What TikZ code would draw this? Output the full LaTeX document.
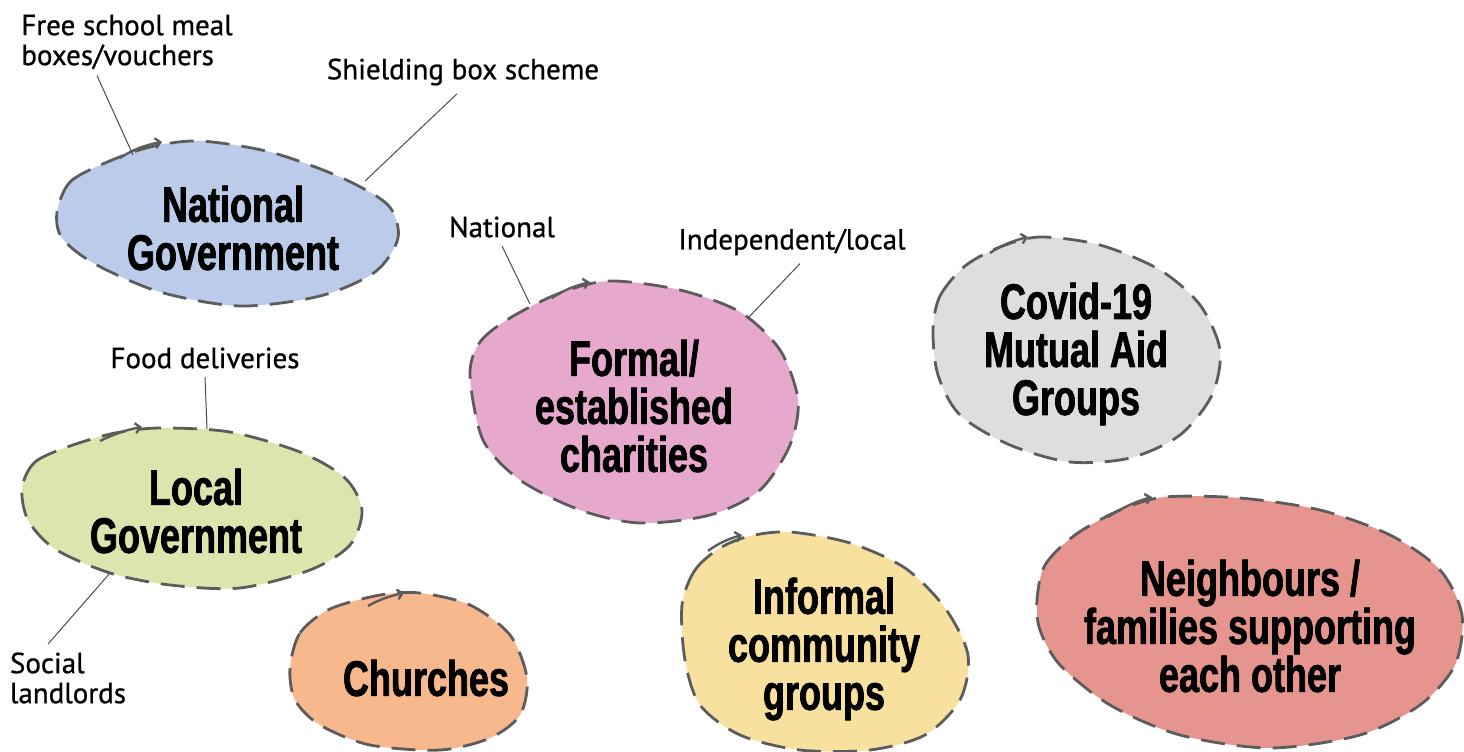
\documentclass[tikz,border=0pt]{standalone}
\usepackage{fontspec}
\setmainfont{PT Sans}[FakeBold=0.8]
\newfontfamily\blobfont[FakeStretch=0.72, FakeBold=1.4]{Liberation Sans}
\usetikzlibrary{arrows.meta}

\definecolor{ngblue}{HTML}{BBCCEA}
\definecolor{lggreen}{HTML}{DDE5AE}
\definecolor{chorange}{HTML}{F7B88E}
\definecolor{fcpink}{HTML}{E6A8CC}
\definecolor{cvgray}{HTML}{DCDFDB}
\definecolor{icyellow}{HTML}{F8E09F}
\definecolor{nbred}{HTML}{E6958E}
\definecolor{dashgray}{HTML}{5C5C5C}

\tikzset{
  blob/.style={draw=dashgray, line width=1.4pt, dash pattern=on 12pt off 6pt, line join=round},
  hookline/.style={draw=dashgray, line width=1.2pt, -{Straight Barb[length=2.5pt,width=5pt]}},
  blobtext/.style={font=\blobfont\bfseries\fontsize{25}{24}\selectfont, align=center, inner sep=0pt},
  tag/.style={font=\fontsize{14.5}{15}\selectfont, inner sep=0pt},
  pointer/.style={draw=black!70, line width=0.5pt}
}

\begin{document}
\begin{tikzpicture}[x=0.5pt, y=-0.5pt]
    \useasboundingbox (0,0) rectangle (1464,751);

    % national government
    \filldraw[blob, fill=ngblue] plot[smooth cycle] coordinates {(57,212) (70,182) (105,163) (150,147) (200,141) (270,152) (340,177) (388,205) (398,238) (375,272) (320,296) (240,306) (160,292) (95,264) (62,238)};
    \draw[hookline] (120,158) .. controls (132,150) and (145,145) .. (162,142);
    \node[blobtext] (natgov) at (233,228) {National\\Government};

    % local government
    \filldraw[blob, fill=lggreen] plot[smooth cycle] coordinates {(22,488) (35,462) (70,446) (115,433) (160,428) (230,432) (300,452) (345,478) (362,510) (350,545) (310,570) (240,588) (170,585) (110,573) (55,549) (28,520)};
    \draw[hookline] (100,441) .. controls (112,435) and (125,430) .. (142,427);
    \node[blobtext] (locgov) at (196,511) {Local\\Government};

    % churches
    \filldraw[blob, fill=chorange] plot[smooth cycle] coordinates {(290,668) (300,633) (330,609) (380,595) (420,593) (470,605) (510,635) (527,678) (520,715) (490,738) (440,750) (370,745) (320,725) (295,700)};
    \draw[hookline] (368,606) .. controls (378,600) and (390,596) .. (404,593);
    \node[blobtext] (church) at (426,678) {Churches};

    % formal charities
    \filldraw[blob, fill=fcpink] plot[smooth cycle] coordinates {(470,375) (480,342) (510,318) (560,293) (610,281) (680,290) (740,312) (780,350) (798,400) (790,445) (760,490) (710,515) (640,523) (580,510) (520,480) (483,440)};
    \draw[hookline] (552,298) .. controls (562,291) and (574,286) .. (590,282);
    \node[blobtext] (charity) at (634,406) {Formal/\\established\\charities};

    % covid-19 groups
    \filldraw[blob, fill=cvgray] plot[smooth cycle] coordinates {(933,330) (940,296) (965,266) (1000,247) (1040,237) (1100,245) (1160,270) (1200,305) (1220,350) (1212,395) (1180,435) (1130,458) (1070,462) (1010,445) (960,415) (938,375)};
    \draw[hookline] (990,253) .. controls (1000,246) and (1012,241) .. (1028,237);
    \node[blobtext] (mutual) at (1076,354) {Covid-19\\Mutual Aid\\Groups};

    % informal groups
    \filldraw[blob, fill=icyellow] plot[smooth cycle] coordinates {(682,605) (695,570) (720,548) (750,536) (790,532) (850,543) (905,568) (945,608) (968,655) (960,700) (925,735) (870,750) (800,750) (740,735) (700,705) (685,660)};
    \draw[hookline] (708,551) .. controls (717,544) and (728,539) .. (742,535);
    \node[blobtext] (informal) at (824,649) {Informal\\community\\groups};

    % neighbours / families
    \filldraw[blob, fill=nbred] plot[smooth cycle] coordinates {(1037,600) (1045,565) (1075,535) (1120,510) (1165,497) (1240,498) (1320,510) (1390,535) (1440,570) (1462,615) (1455,665) (1420,705) (1360,735) (1270,748) (1180,735) (1110,705) (1060,665) (1040,630)};
    \draw[hookline] (1108,517) .. controls (1120,509) and (1134,502) .. (1152,497);
    \node[blobtext] (nbours) at (1250,626) {Neighbours /\\families supporting\\each other};

    % labels
    \node[tag, align=left] (fsm) at (127,42) {Free school meal\\boxes/vouchers};
    \node[tag] (shield) at (463,72) {Shielding box scheme};
    \node[tag] (natl) at (502,227) {National};
    \node[tag] (indep) at (792,242) {Independent/local};
    \node[tag] (food) at (205,358) {Food deliveries};
    \node[tag, align=left] (social) at (68,678) {Social\\landlords};

    % pointer ends on the blobs
    \coordinate (ng-fsm) at (133,155);
    \coordinate (ng-shield) at (365,181);
    \coordinate (fc-natl) at (530,304);
    \coordinate (fc-indep) at (748,318);
    \coordinate (lg-food) at (207,429);
    \coordinate (lg-social) at (110,573);

    \draw[pointer] ([xshift=-15pt, yshift=-3pt]fsm.south) -- (ng-fsm);
    \draw[pointer] ([xshift=-3pt, yshift=-4pt]shield.south) -- (ng-shield);
    \draw[pointer] ([yshift=-4pt]natl.south) -- (fc-natl);
    \draw[pointer] ([xshift=4pt, yshift=-4pt]indep.south) -- (fc-indep);
    \draw[pointer] ([yshift=-4pt]food.south) -- (lg-food);
    \draw[pointer] ([xshift=-10pt, yshift=4pt]social.north) -- (lg-social);
\end{tikzpicture}
\end{document}
